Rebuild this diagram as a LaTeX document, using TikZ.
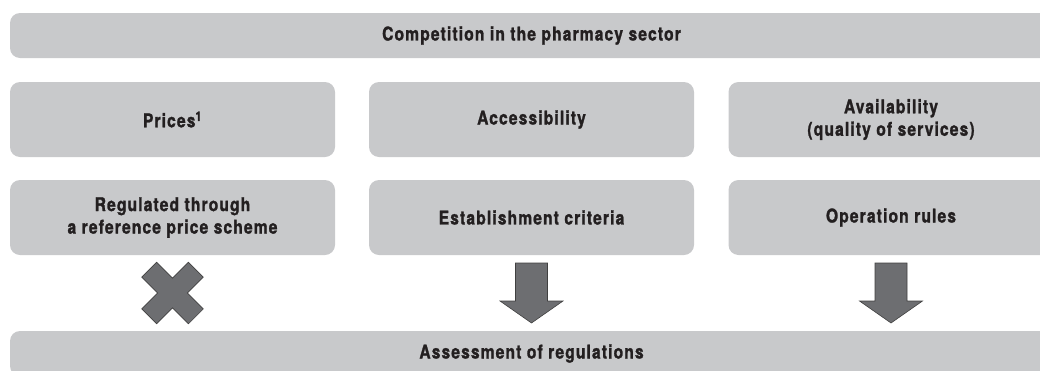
\documentclass[tikz,border=0pt]{standalone}
\usepackage{fontspec}
\setmainfont[FakeStretch=0.82,LetterSpace=6,BoldFeatures={FakeBold=1.4}]{TeX Gyre Heros}
\usepackage{xcolor}
\usetikzlibrary{calc}

\definecolor{kastengrau}{HTML}{C8C9CB}
\definecolor{pfeilgrau}{HTML}{6D6E71}
\definecolor{schrift}{HTML}{231F20}

\tikzset{
	kasten/.style={rectangle, rounded corners=10pt, fill=kastengrau, text=schrift, align=center, inner sep=0pt, font=\bfseries\fontsize{19}{22.5}\selectfont},
	spalte/.style={kasten, minimum width=325pt, minimum height=75pt},
	balken/.style={kasten, minimum width=1043pt, minimum height=45pt},
	blockpfeil/.style={fill=pfeilgrau, draw=black!75, line width=0.6pt, line join=miter}
}

\begin{document}
\begin{tikzpicture}[x=1pt, y=-1pt]

	\useasboundingbox (0,0) rectangle (1040,370);
	\clip (0,0) rectangle (1040,370);

	% obere Leiste
	\node[balken](wettbewerb) at (531.5,35.5) {Competition in the pharmacy sector};

	% erste Zeile
	\node[spalte](preise) at (172.5,119.5) {Prices\textsuperscript{1}};
	\node[spalte](zugang) at (531.5,119.5) {Accessibility};
	\node[spalte](verfuegbar) at (891,119.5) {Availability\\(quality of services)};

	% zweite Zeile
	\node[spalte](referenz) at (172.5,217.5) {Regulated through\\a reference price scheme};
	\node[spalte](kriterien) at (531.5,217.5) {Establishment criteria};
	\node[spalte](regeln) at (891,217.5) {Operation rules};

	% untere Leiste
	\node[balken](bewertung) at (531.5,353.5) {Assessment of regulations};

	\coordinate (kreuz_m) at ($(referenz.south)!0.5!(referenz.south |- bewertung.north)$);
	\coordinate (pfeil_k) at ($(kriterien.south)!0.5!(kriterien.south |- bewertung.north)$);
	\coordinate (pfeil_r) at ($(regeln.south)!0.5!(regeln.south |- bewertung.north)$);

	% Kreuz
	\draw[blockpfeil, shift={(kreuz_m)}, rotate=45] (-10.5,-33) -- (10.5,-33) -- (10.5,-10.5) -- (33,-10.5) -- (33,10.5) -- (10.5,10.5) -- (10.5,33) -- (-10.5,33) -- (-10.5,10.5) -- (-33,10.5) -- (-33,-10.5) -- (-10.5,-10.5) -- cycle;

	% Pfeile
	\draw[blockpfeil, shift={(pfeil_k)}] (-16,-30) -- (16,-30) -- (16,8) -- (31.5,8) -- (0,30) -- (-31.5,8) -- (-16,8) -- cycle;
	\draw[blockpfeil, shift={(pfeil_r)}] (-16,-30) -- (16,-30) -- (16,8) -- (31.5,8) -- (0,30) -- (-31.5,8) -- (-16,8) -- cycle;

\end{tikzpicture}
\end{document}
